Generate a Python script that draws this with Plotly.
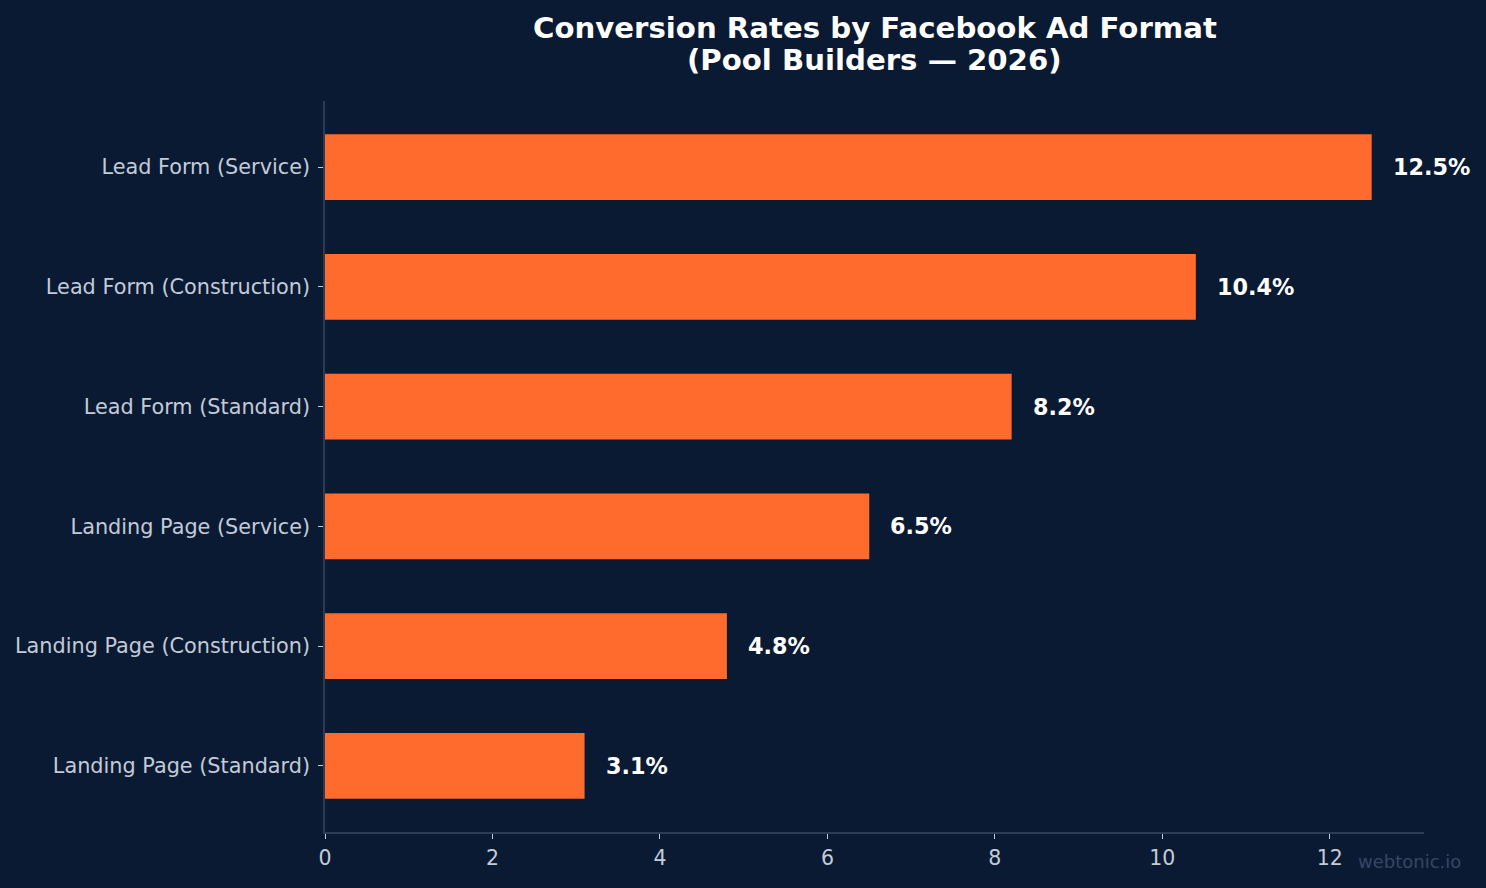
import plotly.graph_objects as go

categories = [
    "Landing Page (Standard)",
    "Landing Page (Construction)",
    "Landing Page (Service)",
    "Lead Form (Standard)",
    "Lead Form (Construction)",
    "Lead Form (Service)",
]
rates = [3.1, 4.8, 6.5, 8.2, 10.4, 12.5]
x_ticks = [0, 2, 4, 6, 8, 10, 12]
title_lines = ["Conversion Rates by Facebook Ad Format", "(Pool Builders — 2026)"]

BG = "#0b1a33"
BAR = "#ff6b2c"
TICK = "#c3cbd8"
SPINE = "#2c3b56"
FONT = "DejaVu Sans"

PLOT_TOP, PLOT_BOTTOM = 101, 832
PH = PLOT_BOTTOM - PLOT_TOP

def py(pix):
    return (PLOT_BOTTOM - pix) / PH

fig = go.Figure()
fig.add_trace(go.Bar(
    x=rates, y=categories, orientation="h",
    marker=dict(color=BAR, line=dict(width=0)),
    width=0.55, hoverinfo="skip",
))

for c, v in zip(categories, rates):
    fig.add_annotation(
        x=v + 0.25, y=c, xref="x", yref="y", xshift=-2,
        text=f"<b>{v:.1f}%</b>", showarrow=False,
        xanchor="left", yanchor="middle",
        font=dict(family=FONT, size=22.3, color="#ffffff"),
    )

for line, ypix in zip(title_lines, [28, 60]):
    fig.add_annotation(
        x=0.5, y=py(ypix), xref="paper", yref="paper",
        text=f"<b>{line}</b>", showarrow=False,
        xanchor="center", yanchor="middle",
        font=dict(family=FONT, size=29.2, color="#ffffff"),
    )

fig.add_annotation(
    x=1.0, y=py(862), xref="paper", yref="paper",
    xshift=39, text="webtonic.io", showarrow=False,
    xanchor="right", yanchor="middle",
    font=dict(family=FONT, size=18, color="#374762"),
)

fig.update_layout(
    width=1486, height=888,
    paper_bgcolor=BG, plot_bgcolor=BG,
    margin=dict(l=325, r=62, t=PLOT_TOP, b=888 - PLOT_BOTTOM),
    showlegend=False,
    xaxis=dict(
        range=[0, 13.125], tickvals=x_ticks, ticktext=[str(t) for t in x_ticks],
        showgrid=False, zeroline=False,
        showline=True, linecolor=SPINE, linewidth=1.5,
        ticks="outside", ticklen=5, tickcolor=TICK, tickwidth=1,
        ticklabelstandoff=2,
        tickfont=dict(family=FONT, size=20.5, color=TICK),
    ),
    yaxis=dict(
        type="category", categoryorder="array", categoryarray=categories,
        range=[-0.5525, 5.5525],
        showgrid=False, zeroline=False,
        showline=True, linecolor=SPINE, linewidth=1.5,
        ticks="outside", ticklen=5, tickcolor=TICK, tickwidth=1,
        ticklabelstandoff=4,
        tickfont=dict(family=FONT, size=20.8, color=TICK),
    ),
)

fig.write_html("out.html")
